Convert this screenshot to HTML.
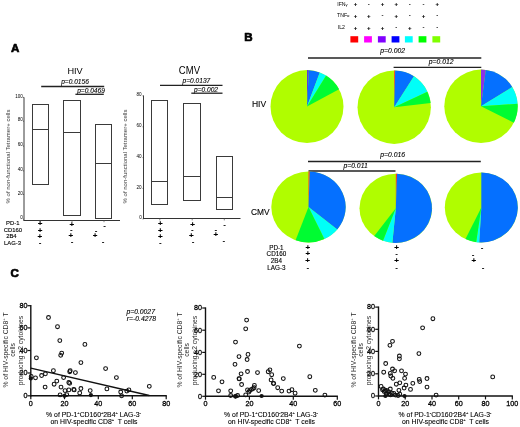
<!DOCTYPE html>
<html lang="en"><head><meta charset="utf-8"><title>Figure</title>
<style>
html,body{margin:0;padding:0;background:#fff;}
body{width:520px;height:427px;overflow:hidden;}
svg{display:block;font-family:'Liberation Sans', Arial, sans-serif;}
svg text.b{stroke:#000;stroke-width:0.12px;}
svg text.b2{stroke:#000;stroke-width:0.1px;}
svg text.b3{stroke:#000;stroke-width:0.28px;}
svg text.pl{stroke:#000;stroke-width:0.7px;stroke-linejoin:round;}
</style></head>
<body>
<svg width="520" height="427" viewBox="0 0 520 427">
<rect x="0" y="0" width="520" height="427" fill="#ffffff"/>
<text x="10.90" y="52.30" font-size="11.6" text-anchor="start" font-weight="bold" font-style="normal" fill="#000" class="pl">A</text>
<text x="75.10" y="73.90" font-size="9.8" text-anchor="middle" font-weight="normal" font-style="normal" fill="#000" textLength="15.3" lengthAdjust="spacingAndGlyphs">HIV</text>
<text x="75.00" y="84.30" font-size="6.6" text-anchor="middle" font-weight="normal" font-style="italic" fill="#000" class="b">p=0.0156</text>
<line x1="41.20" y1="86.50" x2="104.20" y2="86.50" stroke="#222" stroke-width="1.3"/>
<text x="91.00" y="92.60" font-size="6.6" text-anchor="middle" font-weight="normal" font-style="italic" fill="#000" class="b">p=0.0469</text>
<line x1="75.40" y1="94.30" x2="103.80" y2="94.30" stroke="#222" stroke-width="1.3"/>
<line x1="24.00" y1="97.30" x2="24.00" y2="220.90" stroke="#222" stroke-width="0.9"/>
<line x1="23.60" y1="220.50" x2="120.00" y2="220.50" stroke="#333" stroke-width="1"/>
<line x1="40.20" y1="220.40" x2="40.20" y2="222.20" stroke="#555" stroke-width="0.7"/>
<line x1="72.00" y1="220.40" x2="72.00" y2="222.20" stroke="#555" stroke-width="0.7"/>
<line x1="104.00" y1="220.40" x2="104.00" y2="222.20" stroke="#555" stroke-width="0.7"/>
<line x1="23.00" y1="97.40" x2="24.00" y2="97.40" stroke="#222" stroke-width="0.6"/>
<text x="22.80" y="97.50" font-size="4.6" text-anchor="end" font-weight="normal" font-style="normal" fill="#000" >100</text>
<line x1="23.00" y1="121.20" x2="24.00" y2="121.20" stroke="#222" stroke-width="0.6"/>
<text x="22.80" y="121.30" font-size="4.6" text-anchor="end" font-weight="normal" font-style="normal" fill="#000" >80</text>
<line x1="23.00" y1="146.10" x2="24.00" y2="146.10" stroke="#222" stroke-width="0.6"/>
<text x="22.80" y="146.20" font-size="4.6" text-anchor="end" font-weight="normal" font-style="normal" fill="#000" >60</text>
<line x1="23.00" y1="170.90" x2="24.00" y2="170.90" stroke="#222" stroke-width="0.6"/>
<text x="22.80" y="171.00" font-size="4.6" text-anchor="end" font-weight="normal" font-style="normal" fill="#000" >40</text>
<line x1="23.00" y1="194.40" x2="24.00" y2="194.40" stroke="#222" stroke-width="0.6"/>
<text x="22.80" y="194.50" font-size="4.6" text-anchor="end" font-weight="normal" font-style="normal" fill="#000" >20</text>
<line x1="23.00" y1="219.20" x2="24.00" y2="219.20" stroke="#222" stroke-width="0.6"/>
<text x="22.80" y="219.30" font-size="4.6" text-anchor="end" font-weight="normal" font-style="normal" fill="#000" >0</text>
<text transform="translate(10.30,156.50) rotate(-90)" font-size="6.0" text-anchor="middle" fill="#3a3a3a">% of non-functional Tetramer+ cells</text>
<rect x="32.50" y="104.50" width="16.00" height="80.00" stroke="#3a3a3a" stroke-width="1" fill="none"/>
<line x1="32.50" y1="129.50" x2="48.50" y2="129.50" stroke="#3a3a3a" stroke-width="1"/>
<rect x="63.50" y="100.50" width="17.00" height="115.00" stroke="#3a3a3a" stroke-width="1" fill="none"/>
<line x1="63.50" y1="132.50" x2="80.50" y2="132.50" stroke="#3a3a3a" stroke-width="1"/>
<rect x="95.50" y="124.50" width="16.00" height="94.00" stroke="#3a3a3a" stroke-width="1" fill="none"/>
<line x1="95.50" y1="163.50" x2="111.50" y2="163.50" stroke="#3a3a3a" stroke-width="1"/>
<text x="12.70" y="225.10" font-size="5.9" text-anchor="middle" font-weight="normal" font-style="normal" fill="#000" class="b">PD-1</text>
<text x="12.90" y="231.70" font-size="5.9" text-anchor="middle" font-weight="normal" font-style="normal" fill="#000" class="b">CD160</text>
<text x="11.40" y="238.30" font-size="5.9" text-anchor="middle" font-weight="normal" font-style="normal" fill="#000" class="b">2B4</text>
<text x="12.60" y="245.00" font-size="5.9" text-anchor="middle" font-weight="normal" font-style="normal" fill="#000" class="b">LAG-3</text>
<text x="40.10" y="226.22" font-size="8" text-anchor="middle" font-weight="bold" font-style="normal" fill="#000" class="b">+</text>
<text x="40.10" y="232.92" font-size="8" text-anchor="middle" font-weight="bold" font-style="normal" fill="#000" class="b">+</text>
<text x="39.90" y="239.12" font-size="8" text-anchor="middle" font-weight="bold" font-style="normal" fill="#000" class="b">+</text>
<text x="40.20" y="245.12" font-size="8" text-anchor="middle" font-weight="bold" font-style="normal" fill="#000" >-</text>
<text x="71.80" y="226.72" font-size="8" text-anchor="middle" font-weight="bold" font-style="normal" fill="#000" class="b">+</text>
<text x="71.30" y="232.12" font-size="8" text-anchor="middle" font-weight="bold" font-style="normal" fill="#000" >-</text>
<text x="70.80" y="237.72" font-size="8" text-anchor="middle" font-weight="bold" font-style="normal" fill="#000" class="b">+</text>
<text x="72.00" y="244.12" font-size="8" text-anchor="middle" font-weight="bold" font-style="normal" fill="#000" >-</text>
<text x="104.50" y="227.62" font-size="8" text-anchor="middle" font-weight="bold" font-style="normal" fill="#000" >-</text>
<text x="96.20" y="232.62" font-size="8" text-anchor="middle" font-weight="bold" font-style="normal" fill="#000" >-</text>
<text x="95.00" y="237.92" font-size="8" text-anchor="middle" font-weight="bold" font-style="normal" fill="#000" class="b">+</text>
<text x="103.20" y="243.92" font-size="8" text-anchor="middle" font-weight="bold" font-style="normal" fill="#000" >-</text>
<text x="189.40" y="73.90" font-size="10.1" text-anchor="middle" font-weight="normal" font-style="normal" fill="#000" textLength="21.2" lengthAdjust="spacingAndGlyphs">CMV</text>
<text x="196.40" y="83.40" font-size="6.6" text-anchor="middle" font-weight="normal" font-style="italic" fill="#000" class="b">p=0.0137</text>
<line x1="160.00" y1="85.30" x2="222.50" y2="85.30" stroke="#222" stroke-width="1.3"/>
<text x="206.00" y="91.70" font-size="6.6" text-anchor="middle" font-weight="normal" font-style="italic" fill="#000" class="b">p=0.002</text>
<line x1="191.30" y1="93.20" x2="222.50" y2="93.20" stroke="#222" stroke-width="1.3"/>
<line x1="143.50" y1="95.50" x2="143.50" y2="218.90" stroke="#222" stroke-width="0.9"/>
<line x1="143.10" y1="218.50" x2="240.50" y2="218.50" stroke="#333" stroke-width="1"/>
<line x1="159.80" y1="218.60" x2="159.80" y2="220.40" stroke="#555" stroke-width="0.7"/>
<line x1="192.20" y1="218.60" x2="192.20" y2="220.40" stroke="#555" stroke-width="0.7"/>
<line x1="224.30" y1="218.60" x2="224.30" y2="220.40" stroke="#555" stroke-width="0.7"/>
<line x1="142.50" y1="95.80" x2="143.50" y2="95.80" stroke="#222" stroke-width="0.6"/>
<text x="141.70" y="95.90" font-size="4.6" text-anchor="end" font-weight="normal" font-style="normal" fill="#000" >80</text>
<line x1="142.50" y1="126.80" x2="143.50" y2="126.80" stroke="#222" stroke-width="0.6"/>
<text x="141.70" y="126.90" font-size="4.6" text-anchor="end" font-weight="normal" font-style="normal" fill="#000" >60</text>
<line x1="142.50" y1="157.60" x2="143.50" y2="157.60" stroke="#222" stroke-width="0.6"/>
<text x="141.70" y="157.70" font-size="4.6" text-anchor="end" font-weight="normal" font-style="normal" fill="#000" >40</text>
<line x1="142.50" y1="188.40" x2="143.50" y2="188.40" stroke="#222" stroke-width="0.6"/>
<text x="141.70" y="188.50" font-size="4.6" text-anchor="end" font-weight="normal" font-style="normal" fill="#000" >20</text>
<line x1="142.50" y1="219.00" x2="143.50" y2="219.00" stroke="#222" stroke-width="0.6"/>
<text x="141.70" y="219.10" font-size="4.6" text-anchor="end" font-weight="normal" font-style="normal" fill="#000" >0</text>
<text transform="translate(127.20,156.50) rotate(-90)" font-size="6.0" text-anchor="middle" fill="#3a3a3a">% of non-functional Tetramer+ cells</text>
<rect x="151.50" y="100.50" width="16.00" height="104.00" stroke="#3a3a3a" stroke-width="1" fill="none"/>
<line x1="151.50" y1="181.50" x2="167.50" y2="181.50" stroke="#3a3a3a" stroke-width="1"/>
<rect x="183.50" y="103.50" width="17.00" height="97.00" stroke="#3a3a3a" stroke-width="1" fill="none"/>
<line x1="183.50" y1="176.50" x2="200.50" y2="176.50" stroke="#3a3a3a" stroke-width="1"/>
<rect x="216.50" y="156.50" width="16.00" height="53.00" stroke="#3a3a3a" stroke-width="1" fill="none"/>
<line x1="216.50" y1="197.50" x2="232.50" y2="197.50" stroke="#3a3a3a" stroke-width="1"/>
<text x="160.30" y="225.72" font-size="8" text-anchor="middle" font-weight="bold" font-style="normal" fill="#000" class="b">+</text>
<text x="160.30" y="232.72" font-size="8" text-anchor="middle" font-weight="bold" font-style="normal" fill="#000" class="b">+</text>
<text x="160.30" y="238.72" font-size="8" text-anchor="middle" font-weight="bold" font-style="normal" fill="#000" class="b">+</text>
<text x="160.30" y="244.62" font-size="8" text-anchor="middle" font-weight="bold" font-style="normal" fill="#000" >-</text>
<text x="192.50" y="226.82" font-size="8" text-anchor="middle" font-weight="bold" font-style="normal" fill="#000" class="b">+</text>
<text x="192.30" y="232.02" font-size="8" text-anchor="middle" font-weight="bold" font-style="normal" fill="#000" >-</text>
<text x="191.40" y="237.62" font-size="8" text-anchor="middle" font-weight="bold" font-style="normal" fill="#000" class="b">+</text>
<text x="193.00" y="243.82" font-size="8" text-anchor="middle" font-weight="bold" font-style="normal" fill="#000" >-</text>
<text x="224.50" y="227.12" font-size="8" text-anchor="middle" font-weight="bold" font-style="normal" fill="#000" >-</text>
<text x="215.80" y="232.12" font-size="8" text-anchor="middle" font-weight="bold" font-style="normal" fill="#000" >-</text>
<text x="215.80" y="237.22" font-size="8" text-anchor="middle" font-weight="bold" font-style="normal" fill="#000" class="b">+</text>
<text x="223.80" y="242.92" font-size="8" text-anchor="middle" font-weight="bold" font-style="normal" fill="#000" >-</text>
<text x="244.20" y="40.80" font-size="11.6" text-anchor="start" font-weight="bold" font-style="normal" fill="#000" class="pl">B</text>
<text x="337.2" y="5.80" font-size="5.2" text-anchor="start" fill="#000">IFN<tspan font-size="4.2">γ</tspan></text>
<text x="355.40" y="6.14" font-size="6" text-anchor="middle" font-weight="bold" font-style="normal" fill="#000" class="b">+</text>
<text x="368.70" y="5.69" font-size="6" text-anchor="middle" font-weight="bold" font-style="normal" fill="#000" >-</text>
<text x="382.40" y="6.14" font-size="6" text-anchor="middle" font-weight="bold" font-style="normal" fill="#000" class="b">+</text>
<text x="396.20" y="6.14" font-size="6" text-anchor="middle" font-weight="bold" font-style="normal" fill="#000" class="b">+</text>
<text x="409.70" y="5.69" font-size="6" text-anchor="middle" font-weight="bold" font-style="normal" fill="#000" >-</text>
<text x="423.40" y="5.69" font-size="6" text-anchor="middle" font-weight="bold" font-style="normal" fill="#000" >-</text>
<text x="437.20" y="6.14" font-size="6" text-anchor="middle" font-weight="bold" font-style="normal" fill="#000" class="b">+</text>
<text x="337.0" y="17.20" font-size="5.2" text-anchor="start" fill="#000">TNF<tspan font-size="4.2">α</tspan></text>
<text x="355.40" y="17.54" font-size="6" text-anchor="middle" font-weight="bold" font-style="normal" fill="#000" class="b">+</text>
<text x="368.70" y="17.54" font-size="6" text-anchor="middle" font-weight="bold" font-style="normal" fill="#000" class="b">+</text>
<text x="382.40" y="17.09" font-size="6" text-anchor="middle" font-weight="bold" font-style="normal" fill="#000" >-</text>
<text x="396.20" y="17.54" font-size="6" text-anchor="middle" font-weight="bold" font-style="normal" fill="#000" class="b">+</text>
<text x="409.70" y="17.09" font-size="6" text-anchor="middle" font-weight="bold" font-style="normal" fill="#000" >-</text>
<text x="423.40" y="17.54" font-size="6" text-anchor="middle" font-weight="bold" font-style="normal" fill="#000" class="b">+</text>
<text x="437.20" y="17.09" font-size="6" text-anchor="middle" font-weight="bold" font-style="normal" fill="#000" >-</text>
<text x="337.80" y="29.30" font-size="5.2" text-anchor="start" font-weight="normal" font-style="normal" fill="#000" >IL2</text>
<text x="355.40" y="29.64" font-size="6" text-anchor="middle" font-weight="bold" font-style="normal" fill="#000" class="b">+</text>
<text x="368.70" y="29.64" font-size="6" text-anchor="middle" font-weight="bold" font-style="normal" fill="#000" class="b">+</text>
<text x="382.40" y="29.64" font-size="6" text-anchor="middle" font-weight="bold" font-style="normal" fill="#000" class="b">+</text>
<text x="396.20" y="29.19" font-size="6" text-anchor="middle" font-weight="bold" font-style="normal" fill="#000" >-</text>
<text x="409.70" y="29.64" font-size="6" text-anchor="middle" font-weight="bold" font-style="normal" fill="#000" class="b">+</text>
<text x="423.40" y="29.19" font-size="6" text-anchor="middle" font-weight="bold" font-style="normal" fill="#000" >-</text>
<text x="437.20" y="29.19" font-size="6" text-anchor="middle" font-weight="bold" font-style="normal" fill="#000" >-</text>
<rect x="350.40" y="36.2" width="7.8" height="6.3" fill="#ff0000"/>
<rect x="364.10" y="36.2" width="7.8" height="6.3" fill="#ff00ff"/>
<rect x="377.90" y="36.2" width="7.8" height="6.3" fill="#8000ff"/>
<rect x="391.60" y="36.2" width="7.8" height="6.3" fill="#0000ff"/>
<rect x="404.90" y="36.2" width="7.8" height="6.3" fill="#00ffff"/>
<rect x="418.60" y="36.2" width="7.8" height="6.3" fill="#00ff00"/>
<rect x="432.40" y="36.2" width="7.8" height="6.3" fill="#80ff00"/>
<text x="392.70" y="53.30" font-size="6.8" text-anchor="middle" font-weight="normal" font-style="italic" fill="#000" class="b">p=0.002</text>
<line x1="308.00" y1="58.00" x2="481.30" y2="58.00" stroke="#222" stroke-width="1.4"/>
<text x="441.20" y="64.00" font-size="6.8" text-anchor="middle" font-weight="normal" font-style="italic" fill="#000" class="b">p=0.012</text>
<line x1="393.60" y1="67.40" x2="481.30" y2="67.40" stroke="#222" stroke-width="1.4"/>
<text x="259.00" y="106.80" font-size="9.4" text-anchor="middle" font-weight="normal" font-style="normal" fill="#000" textLength="14.2" lengthAdjust="spacingAndGlyphs" class="b">HIV</text>
<ellipse cx="307.00" cy="106.60" rx="36.50" ry="36.50" fill="#b0fd00"/>
<path d="M307.00,106.60 L307.00,70.10 A36.50,36.50 0 0 1 308.91,70.15 Z" fill="#5a3ce0"/>
<path d="M307.00,106.60 L308.91,70.15 A36.50,36.50 0 0 1 319.72,72.39 Z" fill="#0570ff"/>
<path d="M307.00,106.60 L319.72,72.39 A36.50,36.50 0 0 1 326.13,75.51 Z" fill="#00fff8"/>
<path d="M307.00,106.60 L326.13,75.51 A36.50,36.50 0 0 1 339.08,89.18 Z" fill="#00fc32"/>
<ellipse cx="394.20" cy="107.20" rx="36.70" ry="36.70" fill="#b0fd00"/>
<path d="M394.20,107.20 L394.20,70.50 A36.70,36.70 0 0 1 395.16,70.51 Z" fill="#ff3030"/>
<path d="M394.20,107.20 L395.16,70.51 A36.70,36.70 0 0 1 413.97,76.28 Z" fill="#0570ff"/>
<path d="M394.20,107.20 L413.97,76.28 A36.70,36.70 0 0 1 427.43,91.63 Z" fill="#00fff8"/>
<path d="M394.20,107.20 L427.43,91.63 A36.70,36.70 0 0 1 430.65,102.92 Z" fill="#00fc32"/>
<ellipse cx="481.00" cy="106.30" rx="36.70" ry="36.70" fill="#b0fd00"/>
<path d="M481.00,106.30 L481.00,69.60 A36.70,36.70 0 0 1 485.79,69.91 Z" fill="#8c32e6"/>
<path d="M481.00,106.30 L485.79,69.91 A36.70,36.70 0 0 1 512.22,87.02 Z" fill="#0570ff"/>
<path d="M481.00,106.30 L512.22,87.02 A36.70,36.70 0 0 1 517.61,103.74 Z" fill="#00fff8"/>
<path d="M481.00,106.30 L517.61,103.74 A36.70,36.70 0 0 1 513.84,122.68 Z" fill="#00fc32"/>
<text x="392.70" y="156.80" font-size="6.8" text-anchor="middle" font-weight="normal" font-style="italic" fill="#000" class="b">p=0.016</text>
<line x1="308.00" y1="161.50" x2="480.80" y2="161.50" stroke="#222" stroke-width="1.4"/>
<text x="355.60" y="168.00" font-size="6.8" text-anchor="middle" font-weight="normal" font-style="italic" fill="#000" class="b">p=0.011</text>
<line x1="308.50" y1="171.00" x2="395.50" y2="171.00" stroke="#222" stroke-width="1.4"/>
<text x="260.30" y="214.60" font-size="9.6" text-anchor="middle" font-weight="normal" font-style="normal" fill="#000" textLength="18.6" lengthAdjust="spacingAndGlyphs" class="b">CMV</text>
<ellipse cx="308.50" cy="207.00" rx="37.20" ry="35.40" fill="#b0fd00"/>
<path d="M308.50,207.00 L308.50,171.60 A37.20,35.40 0 0 1 309.80,171.62 Z" fill="#ff3030"/>
<path d="M308.50,207.00 L309.80,171.62 A37.20,35.40 0 0 1 337.29,229.42 Z" fill="#0570ff"/>
<path d="M308.50,207.00 L337.29,229.42 A37.20,35.40 0 0 1 324.40,239.00 Z" fill="#00fff8"/>
<path d="M308.50,207.00 L324.40,239.00 A37.20,35.40 0 0 1 295.59,240.20 Z" fill="#00fc32"/>
<ellipse cx="395.80" cy="208.30" rx="36.30" ry="34.60" fill="#b0fd00"/>
<path d="M395.80,208.30 L395.80,173.70 A36.30,34.60 0 0 1 397.07,173.72 Z" fill="#ff3030"/>
<path d="M395.80,208.30 L397.07,173.72 A36.30,34.60 0 1 1 392.38,242.75 Z" fill="#0570ff"/>
<path d="M395.80,208.30 L392.38,242.75 A36.30,34.60 0 0 1 383.03,240.69 Z" fill="#00fff8"/>
<path d="M395.80,208.30 L383.03,240.69 A36.30,34.60 0 0 1 374.21,236.11 Z" fill="#00fc32"/>
<ellipse cx="481.30" cy="207.50" rx="36.50" ry="35.00" fill="#b0fd00"/>
<path d="M481.30,207.50 L481.30,172.50 A36.50,35.00 0 1 1 479.20,242.44 Z" fill="#0570ff"/>
<path d="M481.30,207.50 L479.20,242.44 A36.50,35.00 0 0 1 476.22,242.16 Z" fill="#00fff8"/>
<path d="M481.30,207.50 L476.22,242.16 A36.50,35.00 0 0 1 465.53,239.06 Z" fill="#00fc32"/>
<text x="276.40" y="249.50" font-size="6.3" text-anchor="middle" font-weight="normal" font-style="normal" fill="#000" class="b">PD-1</text>
<text x="276.40" y="256.00" font-size="6.3" text-anchor="middle" font-weight="normal" font-style="normal" fill="#000" class="b">CD160</text>
<text x="276.40" y="262.90" font-size="6.3" text-anchor="middle" font-weight="normal" font-style="normal" fill="#000" class="b">2B4</text>
<text x="276.40" y="269.80" font-size="6.3" text-anchor="middle" font-weight="normal" font-style="normal" fill="#000" class="b">LAG-3</text>
<text x="307.80" y="249.92" font-size="8" text-anchor="middle" font-weight="bold" font-style="normal" fill="#000" class="b">+</text>
<text x="307.80" y="255.92" font-size="8" text-anchor="middle" font-weight="bold" font-style="normal" fill="#000" class="b">+</text>
<text x="307.60" y="263.22" font-size="8" text-anchor="middle" font-weight="bold" font-style="normal" fill="#000" class="b">+</text>
<text x="307.80" y="269.72" font-size="8" text-anchor="middle" font-weight="bold" font-style="normal" fill="#000" >-</text>
<text x="396.50" y="249.72" font-size="8" text-anchor="middle" font-weight="bold" font-style="normal" fill="#000" class="b">+</text>
<text x="396.50" y="255.92" font-size="8" text-anchor="middle" font-weight="bold" font-style="normal" fill="#000" >-</text>
<text x="396.50" y="263.22" font-size="8" text-anchor="middle" font-weight="bold" font-style="normal" fill="#000" class="b">+</text>
<text x="396.50" y="269.62" font-size="8" text-anchor="middle" font-weight="bold" font-style="normal" fill="#000" >-</text>
<text x="482.00" y="249.62" font-size="8" text-anchor="middle" font-weight="bold" font-style="normal" fill="#000" >-</text>
<text x="473.00" y="256.62" font-size="8" text-anchor="middle" font-weight="bold" font-style="normal" fill="#000" >-</text>
<text x="473.80" y="262.72" font-size="8" text-anchor="middle" font-weight="bold" font-style="normal" fill="#000" class="b">+</text>
<text x="483.00" y="269.62" font-size="8" text-anchor="middle" font-weight="bold" font-style="normal" fill="#000" >-</text>
<text x="10.60" y="277.20" font-size="11.6" text-anchor="start" font-weight="bold" font-style="normal" fill="#000" class="pl">C</text>
<line x1="30.80" y1="305.10" x2="30.80" y2="396.40" stroke="#111" stroke-width="1.4"/>
<line x1="30.20" y1="395.80" x2="166.80" y2="395.80" stroke="#111" stroke-width="1.4"/>
<line x1="30.80" y1="395.80" x2="30.80" y2="399.20" stroke="#111" stroke-width="1.2"/>
<text x="30.80" y="405.90" font-size="7.2" text-anchor="middle" font-weight="normal" font-style="normal" fill="#000" class="b3">0</text>
<line x1="64.50" y1="395.80" x2="64.50" y2="399.20" stroke="#111" stroke-width="1.2"/>
<text x="64.50" y="405.90" font-size="7.2" text-anchor="middle" font-weight="normal" font-style="normal" fill="#000" class="b3">20</text>
<line x1="98.30" y1="395.80" x2="98.30" y2="399.20" stroke="#111" stroke-width="1.2"/>
<text x="98.30" y="405.90" font-size="7.2" text-anchor="middle" font-weight="normal" font-style="normal" fill="#000" class="b3">40</text>
<line x1="132.30" y1="395.80" x2="132.30" y2="399.20" stroke="#111" stroke-width="1.2"/>
<text x="132.30" y="405.90" font-size="7.2" text-anchor="middle" font-weight="normal" font-style="normal" fill="#000" class="b3">60</text>
<line x1="166.20" y1="395.80" x2="166.20" y2="399.20" stroke="#111" stroke-width="1.2"/>
<text x="166.20" y="405.90" font-size="7.2" text-anchor="middle" font-weight="normal" font-style="normal" fill="#000" class="b3">80</text>
<line x1="27.50" y1="305.70" x2="30.80" y2="305.70" stroke="#111" stroke-width="1.2"/>
<text x="27.40" y="308.00" font-size="7.2" text-anchor="end" font-weight="normal" font-style="normal" fill="#000" class="b3">80</text>
<line x1="27.50" y1="327.90" x2="30.80" y2="327.90" stroke="#111" stroke-width="1.2"/>
<text x="27.40" y="330.20" font-size="7.2" text-anchor="end" font-weight="normal" font-style="normal" fill="#000" class="b3">60</text>
<line x1="27.50" y1="350.50" x2="30.80" y2="350.50" stroke="#111" stroke-width="1.2"/>
<text x="27.40" y="352.80" font-size="7.2" text-anchor="end" font-weight="normal" font-style="normal" fill="#000" class="b3">40</text>
<line x1="27.50" y1="373.00" x2="30.80" y2="373.00" stroke="#111" stroke-width="1.2"/>
<text x="27.40" y="375.30" font-size="7.2" text-anchor="end" font-weight="normal" font-style="normal" fill="#000" class="b3">20</text>
<line x1="27.50" y1="395.80" x2="30.80" y2="395.80" stroke="#111" stroke-width="1.2"/>
<text x="27.40" y="398.10" font-size="7.2" text-anchor="end" font-weight="normal" font-style="normal" fill="#000" class="b3">0</text>
<circle cx="48.5" cy="317.5" r="1.9" fill="none" stroke="#111" stroke-width="1.05"/>
<circle cx="57.5" cy="326.7" r="1.9" fill="none" stroke="#111" stroke-width="1.05"/>
<circle cx="59.8" cy="340.6" r="1.9" fill="none" stroke="#111" stroke-width="1.05"/>
<circle cx="84.9" cy="344.4" r="1.9" fill="none" stroke="#111" stroke-width="1.05"/>
<circle cx="61.7" cy="353.1" r="1.9" fill="none" stroke="#111" stroke-width="1.05"/>
<circle cx="60.7" cy="355.3" r="1.9" fill="none" stroke="#111" stroke-width="1.05"/>
<circle cx="36.4" cy="357.8" r="1.9" fill="none" stroke="#111" stroke-width="1.05"/>
<circle cx="80.9" cy="362.6" r="1.9" fill="none" stroke="#111" stroke-width="1.05"/>
<circle cx="53.4" cy="370.7" r="1.9" fill="none" stroke="#111" stroke-width="1.05"/>
<circle cx="70.2" cy="370.7" r="1.9" fill="none" stroke="#111" stroke-width="1.05"/>
<circle cx="69.7" cy="371.7" r="1.9" fill="none" stroke="#111" stroke-width="1.05"/>
<circle cx="75.4" cy="372.6" r="1.9" fill="none" stroke="#111" stroke-width="1.05"/>
<circle cx="45.4" cy="373.8" r="1.9" fill="none" stroke="#111" stroke-width="1.05"/>
<circle cx="41.6" cy="375.5" r="1.9" fill="none" stroke="#111" stroke-width="1.05"/>
<circle cx="31.2" cy="376.4" r="1.9" fill="none" stroke="#111" stroke-width="1.05"/>
<circle cx="35.5" cy="377.8" r="1.9" fill="none" stroke="#111" stroke-width="1.05"/>
<circle cx="63.6" cy="377.6" r="1.9" fill="none" stroke="#111" stroke-width="1.05"/>
<circle cx="56.8" cy="381.1" r="1.9" fill="none" stroke="#111" stroke-width="1.05"/>
<circle cx="54.1" cy="384.2" r="1.9" fill="none" stroke="#111" stroke-width="1.05"/>
<circle cx="68.8" cy="382.5" r="1.9" fill="none" stroke="#111" stroke-width="1.05"/>
<circle cx="69.7" cy="383.3" r="1.9" fill="none" stroke="#111" stroke-width="1.05"/>
<circle cx="45.1" cy="387.1" r="1.9" fill="none" stroke="#111" stroke-width="1.05"/>
<circle cx="61.0" cy="387.1" r="1.9" fill="none" stroke="#111" stroke-width="1.05"/>
<circle cx="80.9" cy="388.5" r="1.9" fill="none" stroke="#111" stroke-width="1.05"/>
<circle cx="73.7" cy="389.4" r="1.9" fill="none" stroke="#111" stroke-width="1.05"/>
<circle cx="74.2" cy="389.9" r="1.9" fill="none" stroke="#111" stroke-width="1.05"/>
<circle cx="68.8" cy="389.9" r="1.9" fill="none" stroke="#111" stroke-width="1.05"/>
<circle cx="65.0" cy="390.6" r="1.9" fill="none" stroke="#111" stroke-width="1.05"/>
<circle cx="79.7" cy="392.9" r="1.9" fill="none" stroke="#111" stroke-width="1.05"/>
<circle cx="60.1" cy="394.9" r="1.9" fill="none" stroke="#111" stroke-width="1.05"/>
<circle cx="66.7" cy="394.6" r="1.9" fill="none" stroke="#111" stroke-width="1.05"/>
<circle cx="105.6" cy="368.6" r="1.9" fill="none" stroke="#111" stroke-width="1.05"/>
<circle cx="116.4" cy="377.6" r="1.9" fill="none" stroke="#111" stroke-width="1.05"/>
<circle cx="149.3" cy="386.3" r="1.9" fill="none" stroke="#111" stroke-width="1.05"/>
<circle cx="106.9" cy="388.9" r="1.9" fill="none" stroke="#111" stroke-width="1.05"/>
<circle cx="128.9" cy="389.9" r="1.9" fill="none" stroke="#111" stroke-width="1.05"/>
<circle cx="126.8" cy="391.1" r="1.9" fill="none" stroke="#111" stroke-width="1.05"/>
<circle cx="90.2" cy="390.6" r="1.9" fill="none" stroke="#111" stroke-width="1.05"/>
<circle cx="120.7" cy="392.0" r="1.9" fill="none" stroke="#111" stroke-width="1.05"/>
<circle cx="121.6" cy="395.8" r="1.9" fill="none" stroke="#111" stroke-width="1.05"/>
<circle cx="30.8" cy="378.5" r="2.1" fill="#111"/>
<circle cx="64.5" cy="395.8" r="2.1" fill="#111"/>
<circle cx="90.9" cy="395.1" r="2.1" fill="#111"/>
<text transform="translate(8.20,350) rotate(-90)" font-size="6.8" text-anchor="middle" fill="#2a2a2a">% of HIV-specific CD8<tspan font-size="4" dy="-2.8">+</tspan><tspan dy="2.8"> T</tspan></text>
<text transform="translate(15.20,350) rotate(-90)" font-size="6.8" text-anchor="middle" fill="#2a2a2a">cells</text>
<text transform="translate(23.30,350.6) rotate(-90)" font-size="6.8" text-anchor="middle" fill="#2a2a2a">producing ≥2 cytokines</text>
<line x1="30.80" y1="368.10" x2="149.30" y2="395.50" stroke="#111" stroke-width="1.4"/>
<text x="126.40" y="314.20" font-size="6.8" text-anchor="start" font-weight="normal" font-style="italic" fill="#000" class="b">p=0.0027</text>
<text x="126.80" y="321.00" font-size="6.8" text-anchor="start" font-weight="normal" font-style="italic" fill="#000" class="b">r=-0.4278</text>
<text class="b2" x="93.50" y="416.60" font-size="6.85" text-anchor="middle" fill="#000">% of PD-1<tspan font-size="4" dy="-2.8">+</tspan><tspan dy="2.8">CD160</tspan><tspan font-size="4" dy="-2.8">+</tspan><tspan dy="2.8">2B4</tspan><tspan font-size="4" dy="-2.8">+</tspan><tspan dy="2.8"> LAG-3</tspan><tspan font-size="4" dy="-2.8">-</tspan></text>
<text class="b2" x="94.00" y="423.60" font-size="6.85" text-anchor="middle" fill="#000" style="white-space:pre">on HIV-specific CD8<tspan font-size="4" dy="-2.8">+</tspan><tspan dy="2.8">  T cells</tspan></text>
<line x1="205.50" y1="307.40" x2="205.50" y2="396.90" stroke="#111" stroke-width="1.4"/>
<line x1="204.90" y1="396.30" x2="337.90" y2="396.30" stroke="#111" stroke-width="1.4"/>
<line x1="205.50" y1="396.30" x2="205.50" y2="399.70" stroke="#111" stroke-width="1.2"/>
<text x="205.50" y="406.40" font-size="7.2" text-anchor="middle" font-weight="normal" font-style="normal" fill="#000" class="b3">0</text>
<line x1="249.40" y1="396.30" x2="249.40" y2="399.70" stroke="#111" stroke-width="1.2"/>
<text x="249.40" y="406.40" font-size="7.2" text-anchor="middle" font-weight="normal" font-style="normal" fill="#000" class="b3">20</text>
<line x1="293.30" y1="396.30" x2="293.30" y2="399.70" stroke="#111" stroke-width="1.2"/>
<text x="293.30" y="406.40" font-size="7.2" text-anchor="middle" font-weight="normal" font-style="normal" fill="#000" class="b3">40</text>
<line x1="337.30" y1="396.30" x2="337.30" y2="399.70" stroke="#111" stroke-width="1.2"/>
<text x="337.30" y="406.40" font-size="7.2" text-anchor="middle" font-weight="normal" font-style="normal" fill="#000" class="b3">60</text>
<line x1="202.20" y1="308.00" x2="205.50" y2="308.00" stroke="#111" stroke-width="1.2"/>
<text x="202.10" y="310.30" font-size="7.2" text-anchor="end" font-weight="normal" font-style="normal" fill="#000" class="b3">80</text>
<line x1="202.20" y1="330.20" x2="205.50" y2="330.20" stroke="#111" stroke-width="1.2"/>
<text x="202.10" y="332.50" font-size="7.2" text-anchor="end" font-weight="normal" font-style="normal" fill="#000" class="b3">60</text>
<line x1="202.20" y1="352.40" x2="205.50" y2="352.40" stroke="#111" stroke-width="1.2"/>
<text x="202.10" y="354.70" font-size="7.2" text-anchor="end" font-weight="normal" font-style="normal" fill="#000" class="b3">40</text>
<line x1="202.20" y1="374.30" x2="205.50" y2="374.30" stroke="#111" stroke-width="1.2"/>
<text x="202.10" y="376.60" font-size="7.2" text-anchor="end" font-weight="normal" font-style="normal" fill="#000" class="b3">20</text>
<line x1="202.20" y1="396.30" x2="205.50" y2="396.30" stroke="#111" stroke-width="1.2"/>
<text x="202.10" y="398.60" font-size="7.2" text-anchor="end" font-weight="normal" font-style="normal" fill="#000" class="b3">0</text>
<circle cx="246.6" cy="320.1" r="1.9" fill="none" stroke="#111" stroke-width="1.05"/>
<circle cx="245.7" cy="328.8" r="1.9" fill="none" stroke="#111" stroke-width="1.05"/>
<circle cx="235.5" cy="342.1" r="1.9" fill="none" stroke="#111" stroke-width="1.05"/>
<circle cx="248.0" cy="354.4" r="1.9" fill="none" stroke="#111" stroke-width="1.05"/>
<circle cx="239.0" cy="356.6" r="1.9" fill="none" stroke="#111" stroke-width="1.05"/>
<circle cx="247.1" cy="359.5" r="1.9" fill="none" stroke="#111" stroke-width="1.05"/>
<circle cx="235.0" cy="364.3" r="1.9" fill="none" stroke="#111" stroke-width="1.05"/>
<circle cx="247.5" cy="371.5" r="1.9" fill="none" stroke="#111" stroke-width="1.05"/>
<circle cx="257.5" cy="372.6" r="1.9" fill="none" stroke="#111" stroke-width="1.05"/>
<circle cx="241.1" cy="373.8" r="1.9" fill="none" stroke="#111" stroke-width="1.05"/>
<circle cx="213.7" cy="377.4" r="1.9" fill="none" stroke="#111" stroke-width="1.05"/>
<circle cx="239.0" cy="378.6" r="1.9" fill="none" stroke="#111" stroke-width="1.05"/>
<circle cx="239.3" cy="378.9" r="1.9" fill="none" stroke="#111" stroke-width="1.05"/>
<circle cx="222.0" cy="381.8" r="1.9" fill="none" stroke="#111" stroke-width="1.05"/>
<circle cx="241.6" cy="384.5" r="1.9" fill="none" stroke="#111" stroke-width="1.05"/>
<circle cx="254.4" cy="385.4" r="1.9" fill="none" stroke="#111" stroke-width="1.05"/>
<circle cx="254.1" cy="387.7" r="1.9" fill="none" stroke="#111" stroke-width="1.05"/>
<circle cx="251.5" cy="389.4" r="1.9" fill="none" stroke="#111" stroke-width="1.05"/>
<circle cx="247.5" cy="389.9" r="1.9" fill="none" stroke="#111" stroke-width="1.05"/>
<circle cx="218.5" cy="390.8" r="1.9" fill="none" stroke="#111" stroke-width="1.05"/>
<circle cx="230.7" cy="390.8" r="1.9" fill="none" stroke="#111" stroke-width="1.05"/>
<circle cx="258.7" cy="390.6" r="1.9" fill="none" stroke="#111" stroke-width="1.05"/>
<circle cx="248.9" cy="392.0" r="1.9" fill="none" stroke="#111" stroke-width="1.05"/>
<circle cx="245.7" cy="394.9" r="1.9" fill="none" stroke="#111" stroke-width="1.05"/>
<circle cx="237.6" cy="395.5" r="1.9" fill="none" stroke="#111" stroke-width="1.05"/>
<circle cx="235.5" cy="396.3" r="1.9" fill="none" stroke="#111" stroke-width="1.05"/>
<circle cx="230.7" cy="395.5" r="1.9" fill="none" stroke="#111" stroke-width="1.05"/>
<circle cx="299.4" cy="346.1" r="1.9" fill="none" stroke="#111" stroke-width="1.05"/>
<circle cx="269.9" cy="369.8" r="1.9" fill="none" stroke="#111" stroke-width="1.05"/>
<circle cx="268.2" cy="371.7" r="1.9" fill="none" stroke="#111" stroke-width="1.05"/>
<circle cx="271.7" cy="374.7" r="1.9" fill="none" stroke="#111" stroke-width="1.05"/>
<circle cx="309.8" cy="376.7" r="1.9" fill="none" stroke="#111" stroke-width="1.05"/>
<circle cx="283.3" cy="378.6" r="1.9" fill="none" stroke="#111" stroke-width="1.05"/>
<circle cx="271.1" cy="379.9" r="1.9" fill="none" stroke="#111" stroke-width="1.05"/>
<circle cx="273.4" cy="383.3" r="1.9" fill="none" stroke="#111" stroke-width="1.05"/>
<circle cx="273.7" cy="383.6" r="1.9" fill="none" stroke="#111" stroke-width="1.05"/>
<circle cx="249.8" cy="390.6" r="1.9" fill="none" stroke="#111" stroke-width="1.05"/>
<circle cx="253.0" cy="388.6" r="1.9" fill="none" stroke="#111" stroke-width="1.05"/>
<circle cx="277.7" cy="387.7" r="1.9" fill="none" stroke="#111" stroke-width="1.05"/>
<circle cx="281.7" cy="391.1" r="1.9" fill="none" stroke="#111" stroke-width="1.05"/>
<circle cx="289.0" cy="391.1" r="1.9" fill="none" stroke="#111" stroke-width="1.05"/>
<circle cx="291.9" cy="389.7" r="1.9" fill="none" stroke="#111" stroke-width="1.05"/>
<circle cx="295.1" cy="393.2" r="1.9" fill="none" stroke="#111" stroke-width="1.05"/>
<circle cx="315.3" cy="390.3" r="1.9" fill="none" stroke="#111" stroke-width="1.05"/>
<circle cx="324.9" cy="395.1" r="1.9" fill="none" stroke="#111" stroke-width="1.05"/>
<circle cx="261.6" cy="396.0" r="2.1" fill="#111"/>
<circle cx="235.5" cy="396.3" r="2.1" fill="#111"/>
<text transform="translate(181.80,350) rotate(-90)" font-size="6.8" text-anchor="middle" fill="#2a2a2a">% of HIV-specific CD8<tspan font-size="4" dy="-2.8">+</tspan><tspan dy="2.8"> T</tspan></text>
<text transform="translate(189.10,350) rotate(-90)" font-size="6.8" text-anchor="middle" fill="#2a2a2a">cells</text>
<text transform="translate(196.60,350.6) rotate(-90)" font-size="6.8" text-anchor="middle" fill="#2a2a2a">producing ≥2 cytokines</text>
<text class="b2" x="271.00" y="416.60" font-size="6.85" text-anchor="middle" fill="#000">% of PD-1<tspan font-size="4" dy="-2.8">+</tspan><tspan dy="2.8">CD160</tspan><tspan font-size="4" dy="-2.8">-</tspan><tspan dy="2.8">2B4</tspan><tspan font-size="4" dy="-2.8">+</tspan><tspan dy="2.8"> LAG-3</tspan><tspan font-size="4" dy="-2.8">-</tspan></text>
<text class="b2" x="271.50" y="423.60" font-size="6.85" text-anchor="middle" fill="#000" style="white-space:pre">on HIV-specific CD8<tspan font-size="4" dy="-2.8">+</tspan><tspan dy="2.8">  T cells</tspan></text>
<line x1="378.50" y1="306.50" x2="378.50" y2="396.60" stroke="#111" stroke-width="1.4"/>
<line x1="377.90" y1="396.00" x2="512.90" y2="396.00" stroke="#111" stroke-width="1.4"/>
<line x1="378.50" y1="396.00" x2="378.50" y2="399.40" stroke="#111" stroke-width="1.2"/>
<text x="378.50" y="406.10" font-size="7.2" text-anchor="middle" font-weight="normal" font-style="normal" fill="#000" class="b3">0</text>
<line x1="405.20" y1="396.00" x2="405.20" y2="399.40" stroke="#111" stroke-width="1.2"/>
<text x="405.20" y="406.10" font-size="7.2" text-anchor="middle" font-weight="normal" font-style="normal" fill="#000" class="b3">20</text>
<line x1="432.00" y1="396.00" x2="432.00" y2="399.40" stroke="#111" stroke-width="1.2"/>
<text x="432.00" y="406.10" font-size="7.2" text-anchor="middle" font-weight="normal" font-style="normal" fill="#000" class="b3">40</text>
<line x1="458.70" y1="396.00" x2="458.70" y2="399.40" stroke="#111" stroke-width="1.2"/>
<text x="458.70" y="406.10" font-size="7.2" text-anchor="middle" font-weight="normal" font-style="normal" fill="#000" class="b3">60</text>
<line x1="485.50" y1="396.00" x2="485.50" y2="399.40" stroke="#111" stroke-width="1.2"/>
<text x="485.50" y="406.10" font-size="7.2" text-anchor="middle" font-weight="normal" font-style="normal" fill="#000" class="b3">80</text>
<line x1="512.30" y1="396.00" x2="512.30" y2="399.40" stroke="#111" stroke-width="1.2"/>
<text x="512.30" y="406.10" font-size="7.2" text-anchor="middle" font-weight="normal" font-style="normal" fill="#000" class="b3">100</text>
<line x1="375.20" y1="307.10" x2="378.50" y2="307.10" stroke="#111" stroke-width="1.2"/>
<text x="375.10" y="309.40" font-size="7.2" text-anchor="end" font-weight="normal" font-style="normal" fill="#000" class="b3">80</text>
<line x1="375.20" y1="329.30" x2="378.50" y2="329.30" stroke="#111" stroke-width="1.2"/>
<text x="375.10" y="331.60" font-size="7.2" text-anchor="end" font-weight="normal" font-style="normal" fill="#000" class="b3">60</text>
<line x1="375.20" y1="351.40" x2="378.50" y2="351.40" stroke="#111" stroke-width="1.2"/>
<text x="375.10" y="353.70" font-size="7.2" text-anchor="end" font-weight="normal" font-style="normal" fill="#000" class="b3">40</text>
<line x1="375.20" y1="373.80" x2="378.50" y2="373.80" stroke="#111" stroke-width="1.2"/>
<text x="375.10" y="376.10" font-size="7.2" text-anchor="end" font-weight="normal" font-style="normal" fill="#000" class="b3">20</text>
<line x1="375.20" y1="396.00" x2="378.50" y2="396.00" stroke="#111" stroke-width="1.2"/>
<text x="375.10" y="398.30" font-size="7.2" text-anchor="end" font-weight="normal" font-style="normal" fill="#000" class="b3">0</text>
<circle cx="432.9" cy="318.7" r="1.9" fill="none" stroke="#111" stroke-width="1.05"/>
<circle cx="422.6" cy="327.8" r="1.9" fill="none" stroke="#111" stroke-width="1.05"/>
<circle cx="392.5" cy="341.3" r="1.9" fill="none" stroke="#111" stroke-width="1.05"/>
<circle cx="389.9" cy="345.3" r="1.9" fill="none" stroke="#111" stroke-width="1.05"/>
<circle cx="418.9" cy="353.6" r="1.9" fill="none" stroke="#111" stroke-width="1.05"/>
<circle cx="399.4" cy="356.0" r="1.9" fill="none" stroke="#111" stroke-width="1.05"/>
<circle cx="399.4" cy="358.8" r="1.9" fill="none" stroke="#111" stroke-width="1.05"/>
<circle cx="385.7" cy="363.5" r="1.9" fill="none" stroke="#111" stroke-width="1.05"/>
<circle cx="392.5" cy="369.0" r="1.9" fill="none" stroke="#111" stroke-width="1.05"/>
<circle cx="394.6" cy="370.8" r="1.9" fill="none" stroke="#111" stroke-width="1.05"/>
<circle cx="401.5" cy="370.8" r="1.9" fill="none" stroke="#111" stroke-width="1.05"/>
<circle cx="383.7" cy="372.2" r="1.9" fill="none" stroke="#111" stroke-width="1.05"/>
<circle cx="390.3" cy="373.3" r="1.9" fill="none" stroke="#111" stroke-width="1.05"/>
<circle cx="405.5" cy="374.1" r="1.9" fill="none" stroke="#111" stroke-width="1.05"/>
<circle cx="390.8" cy="376.0" r="1.9" fill="none" stroke="#111" stroke-width="1.05"/>
<circle cx="392.9" cy="378.3" r="1.9" fill="none" stroke="#111" stroke-width="1.05"/>
<circle cx="404.6" cy="378.3" r="1.9" fill="none" stroke="#111" stroke-width="1.05"/>
<circle cx="419.2" cy="379.3" r="1.9" fill="none" stroke="#111" stroke-width="1.05"/>
<circle cx="427.0" cy="378.5" r="1.9" fill="none" stroke="#111" stroke-width="1.05"/>
<circle cx="419.7" cy="381.6" r="1.9" fill="none" stroke="#111" stroke-width="1.05"/>
<circle cx="399.8" cy="382.8" r="1.9" fill="none" stroke="#111" stroke-width="1.05"/>
<circle cx="412.8" cy="383.3" r="1.9" fill="none" stroke="#111" stroke-width="1.05"/>
<circle cx="396.3" cy="384.2" r="1.9" fill="none" stroke="#111" stroke-width="1.05"/>
<circle cx="405.9" cy="385.1" r="1.9" fill="none" stroke="#111" stroke-width="1.05"/>
<circle cx="381.1" cy="386.4" r="1.9" fill="none" stroke="#111" stroke-width="1.05"/>
<circle cx="404.1" cy="388.0" r="1.9" fill="none" stroke="#111" stroke-width="1.05"/>
<circle cx="427.0" cy="387.1" r="1.9" fill="none" stroke="#111" stroke-width="1.05"/>
<circle cx="410.5" cy="389.4" r="1.9" fill="none" stroke="#111" stroke-width="1.05"/>
<circle cx="390.3" cy="389.0" r="1.9" fill="none" stroke="#111" stroke-width="1.05"/>
<circle cx="382.5" cy="389.7" r="1.9" fill="none" stroke="#111" stroke-width="1.05"/>
<circle cx="386.4" cy="390.3" r="1.9" fill="none" stroke="#111" stroke-width="1.05"/>
<circle cx="398.9" cy="390.3" r="1.9" fill="none" stroke="#111" stroke-width="1.05"/>
<circle cx="384.2" cy="391.5" r="1.9" fill="none" stroke="#111" stroke-width="1.05"/>
<circle cx="388.5" cy="391.6" r="1.9" fill="none" stroke="#111" stroke-width="1.05"/>
<circle cx="392.0" cy="393.2" r="1.9" fill="none" stroke="#111" stroke-width="1.05"/>
<circle cx="386.4" cy="394.1" r="1.9" fill="none" stroke="#111" stroke-width="1.05"/>
<circle cx="389.4" cy="394.1" r="1.9" fill="none" stroke="#111" stroke-width="1.05"/>
<circle cx="395.5" cy="395.1" r="1.9" fill="none" stroke="#111" stroke-width="1.05"/>
<circle cx="398.1" cy="395.5" r="1.9" fill="none" stroke="#111" stroke-width="1.05"/>
<circle cx="399.8" cy="394.1" r="1.9" fill="none" stroke="#111" stroke-width="1.05"/>
<circle cx="492.7" cy="376.9" r="1.9" fill="none" stroke="#111" stroke-width="1.05"/>
<circle cx="436.1" cy="395.1" r="1.9" fill="none" stroke="#111" stroke-width="1.05"/>
<circle cx="383.4" cy="389.0" r="1.9" fill="none" stroke="#111" stroke-width="1.05"/>
<circle cx="385.3" cy="391.0" r="1.9" fill="none" stroke="#111" stroke-width="1.05"/>
<circle cx="387.6" cy="392.6" r="1.9" fill="none" stroke="#111" stroke-width="1.05"/>
<circle cx="390.6" cy="394.9" r="1.9" fill="none" stroke="#111" stroke-width="1.05"/>
<circle cx="393.8" cy="393.4" r="1.9" fill="none" stroke="#111" stroke-width="1.05"/>
<circle cx="404.5" cy="396.0" r="2.1" fill="#111"/>
<circle cx="385.4" cy="396.0" r="2.1" fill="#111"/>
<text transform="translate(355.60,350) rotate(-90)" font-size="6.8" text-anchor="middle" fill="#2a2a2a">% of HIV-specific CD8<tspan font-size="4" dy="-2.8">+</tspan><tspan dy="2.8"> T</tspan></text>
<text transform="translate(363.40,350) rotate(-90)" font-size="6.8" text-anchor="middle" fill="#2a2a2a">cells</text>
<text transform="translate(370.90,350.6) rotate(-90)" font-size="6.8" text-anchor="middle" fill="#2a2a2a">producing ≥2 cytokines</text>
<text class="b2" x="445.00" y="416.60" font-size="6.85" text-anchor="middle" fill="#000">% of PD-1<tspan font-size="4" dy="-2.8">-</tspan><tspan dy="2.8">CD160</tspan><tspan font-size="4" dy="-2.8">-</tspan><tspan dy="2.8">2B4</tspan><tspan font-size="4" dy="-2.8">+</tspan><tspan dy="2.8"> LAG-3</tspan><tspan font-size="4" dy="-2.8">-</tspan></text>
<text class="b2" x="445.50" y="423.60" font-size="6.85" text-anchor="middle" fill="#000" style="white-space:pre">on HIV-specific CD8<tspan font-size="4" dy="-2.8">+</tspan><tspan dy="2.8">  T cells</tspan></text>
</svg>
</body></html>
